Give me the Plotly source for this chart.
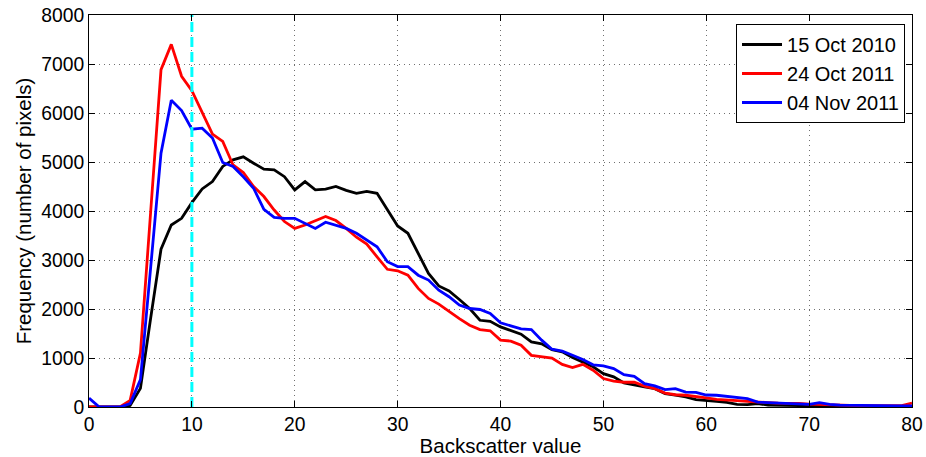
import plotly.graph_objects as go

x_vals = list(range(0, 81))

oct2010 = [0, 0, 0, 0, 30, 380, 1820, 3220, 3715, 3850, 4170, 4450, 4600, 4910, 5045, 5105, 4975, 4855, 4840, 4700,
           4430, 4600, 4430, 4445, 4500, 4420, 4360, 4400, 4360, 4020, 3695, 3545, 3135, 2725, 2470, 2370, 2195, 2010, 1770, 1750,
           1635, 1555, 1485, 1330, 1290, 1170, 1125, 1010, 920, 820, 680, 615, 490, 445, 410, 375, 275, 240, 205, 150,
           125, 115, 95, 55, 50, 70, 40, 40, 30, 30, 25, 20, 20, 15, 15, 10, 10, 10, 5, 5, 5]

oct2011 = [0, 0, 0, 0, 136, 1100, 4000, 6885, 7400, 6750, 6455, 6030, 5570, 5420, 4940, 4785, 4500, 4295, 4020, 3785,
           3645, 3715, 3810, 3890, 3805, 3645, 3465, 3325, 3065, 2810, 2780, 2690, 2420, 2215, 2100, 1945, 1805, 1670, 1580, 1555,
           1365, 1345, 1260, 1055, 1035, 1000, 870, 805, 870, 750, 580, 530, 505, 505, 425, 375, 285, 250, 240, 205,
           185, 155, 135, 130, 115, 95, 90, 80, 80, 75, 60, 50, 45, 40, 35, 30, 30, 25, 25, 30, 80]

nov2011 = [180, 0, 0, 0, 70, 560, 2860, 5180, 6260, 6050, 5670, 5690, 5490, 4990, 4910, 4700, 4465, 4035, 3870, 3850,
           3850, 3740, 3645, 3770, 3705, 3645, 3545, 3410, 3270, 2965, 2865, 2865, 2690, 2590, 2385, 2250, 2080, 2010, 1990, 1910,
           1720, 1655, 1595, 1580, 1365, 1180, 1140, 1055, 970, 860, 840, 785, 660, 625, 475, 430, 355, 375, 305, 300,
           245, 240, 220, 185, 170, 100, 90, 90, 70, 70, 55, 90, 55, 40, 35, 30, 25, 25, 20, 20, 20]

series_names = ["15 Oct 2010", "24 Oct 2011", "04 Nov 2011"]
series_colors = ["#000000", "#ff0000", "#0000ff"]
threshold_x = 10

x_ticks = [0, 10, 20, 30, 40, 50, 60, 70, 80]
y_ticks = [0, 1000, 2000, 3000, 4000, 5000, 6000, 7000, 8000]

fig = go.Figure()
for name, ys, col in zip(series_names, [oct2010, oct2011, nov2011], series_colors):
    fig.add_trace(go.Scatter(x=x_vals, y=ys, mode="lines", name=name,
                             line=dict(color=col, width=2.8)))

fig.add_trace(go.Scatter(x=[threshold_x, threshold_x], y=[0, 8000], mode="lines",
                         line=dict(color="#00ffff", width=3, dash="10px,5px"),
                         showlegend=False, hoverinfo="skip"))

font_family = "Liberation Sans, Arial, sans-serif"
axis_common = dict(showline=True, linecolor="black", linewidth=1, mirror="ticks",
                   ticks="inside", ticklen=6, tickcolor="black",
                   showgrid=True, gridcolor="#707070", griddash="1px,4px", gridwidth=1,
                   zeroline=False, automargin=False,
                   tickfont=dict(size=19.3, color="black", family=font_family))

fig.update_layout(
    width=926, height=457,
    margin=dict(l=89, r=14, t=15, b=50),
    paper_bgcolor="white", plot_bgcolor="white",
    font=dict(family=font_family, color="black", size=19.3),
    showlegend=True,
    legend=dict(x=0.9915, y=0.977, xanchor="right", yanchor="top",
                bgcolor="white", bordercolor="black", borderwidth=1,
                font=dict(size=20, color="black", family=font_family),
                tracegroupgap=0, itemwidth=40),
    xaxis=dict(range=[0, 80], tickvals=x_ticks, ticktext=[str(v) for v in x_ticks],
               title=dict(text="Backscatter value", font=dict(size=20.5), standoff=4), **axis_common),
    yaxis=dict(range=[0, 8000], tickvals=y_ticks, ticktext=[str(v) for v in y_ticks],
               title=dict(text="Frequency (number of pixels)", font=dict(size=20.5), standoff=4), **axis_common),
)

fig.write_html("out.html")
